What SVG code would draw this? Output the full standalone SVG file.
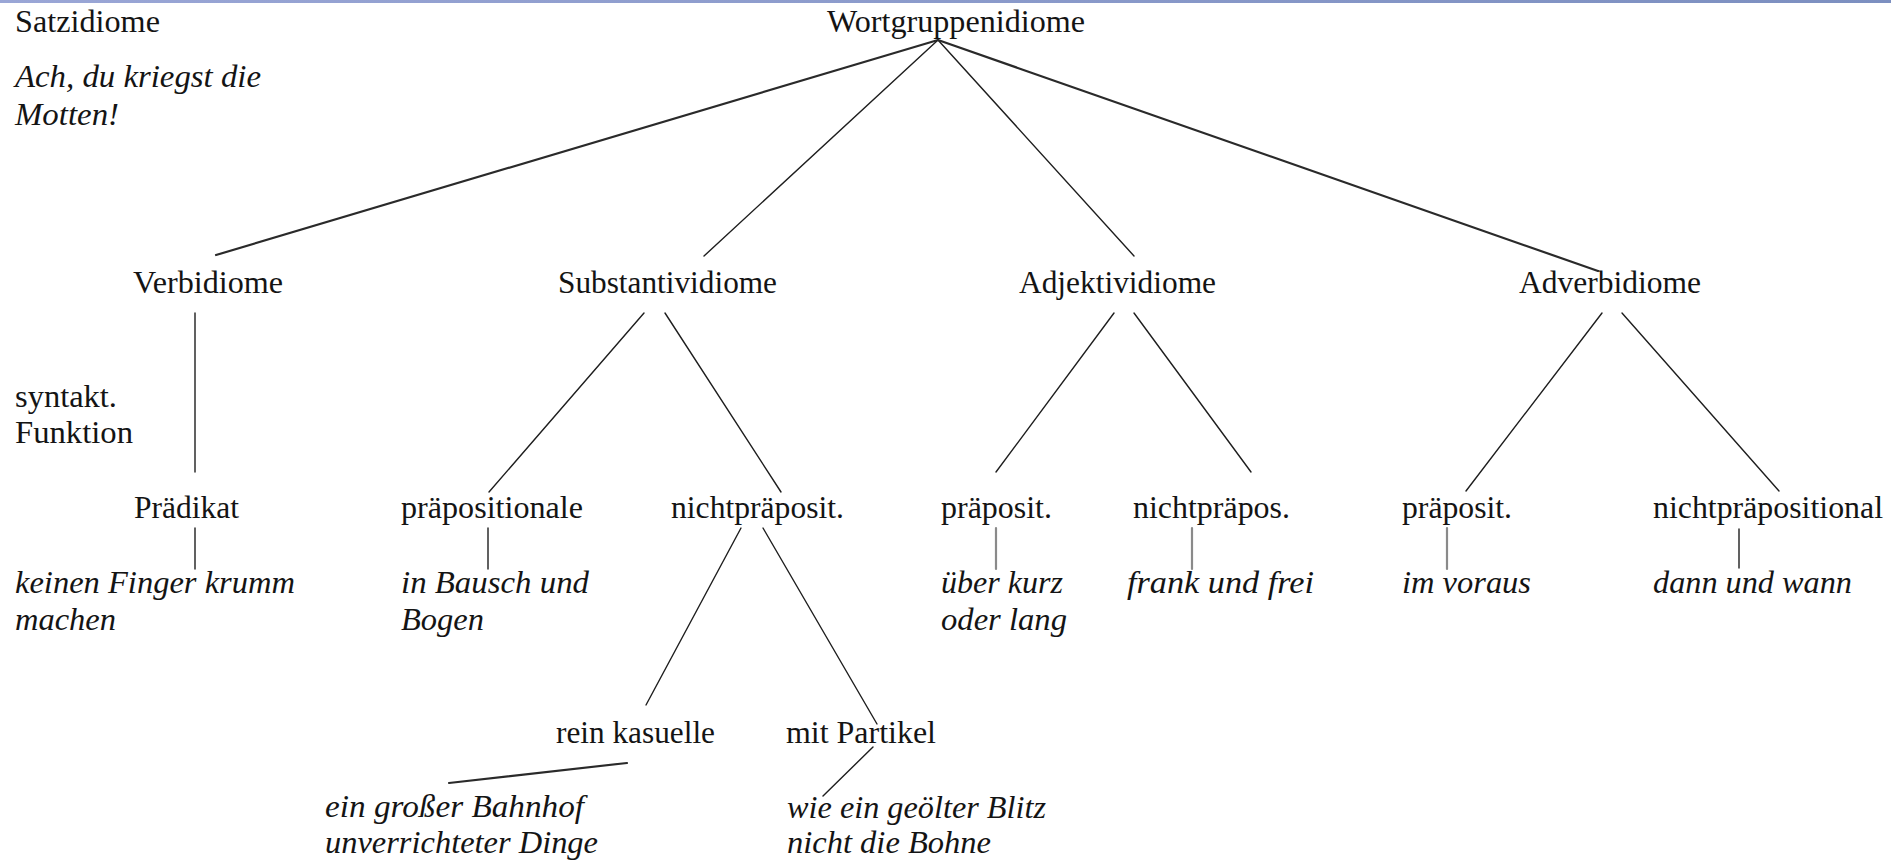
<svg xmlns="http://www.w3.org/2000/svg" width="1891" height="862" viewBox="0 0 1891 862">
  <defs>
    <linearGradient id="bar" x1="0" y1="0" x2="1" y2="0">
      <stop offset="0" stop-color="#9aa6d6"/>
      <stop offset="1" stop-color="#7c8fc0"/>
    </linearGradient>
  </defs>
  <style>
    text { font-family: 'Liberation Serif', 'DejaVu Serif', serif; font-size: 31px; fill: #141414; }
    .ex { font-style: italic; }
    .ln { stroke: #1e1e1e; stroke-width: 1.4; fill: none; stroke-linecap: round; }
    .thick { stroke-width: 2.2; stroke: #2a2a2a; }
    .gray { stroke: #8a8a8a; stroke-width: 2.2; }
  </style>
  <rect x="0" y="0" width="1891" height="862" fill="#ffffff"/>
  <rect x="0" y="0" width="1891" height="3" fill="url(#bar)"/>

  <g id="connectors">
    <line class="ln thick" x1="938" y1="40" x2="216" y2="255"/>
    <line class="ln" x1="938" y1="40" x2="704" y2="256"/>
    <line class="ln" x1="938" y1="40" x2="1134" y2="256"/>
    <line class="ln thick" x1="938" y1="40" x2="1598" y2="271"/>

    <line class="ln" x1="195" y1="313" x2="195" y2="472"/>
    <line class="ln" x1="644" y1="313" x2="489" y2="492"/>
    <line class="ln" x1="665" y1="313" x2="781" y2="492"/>
    <line class="ln" x1="1114" y1="313" x2="996" y2="472"/>
    <line class="ln" x1="1134" y1="313" x2="1251" y2="472"/>
    <line class="ln" x1="1602" y1="313" x2="1466" y2="491"/>
    <line class="ln" x1="1622" y1="313" x2="1779" y2="491"/>

    <line class="ln" x1="195" y1="528" x2="195" y2="569"/>
    <line class="ln" x1="488" y1="528" x2="488" y2="569"/>
    <line class="ln gray" x1="996" y1="528" x2="996" y2="569"/>
    <line class="ln gray" x1="1192" y1="528" x2="1192" y2="569"/>
    <line class="ln gray" x1="1447" y1="528" x2="1447" y2="569"/>
    <line class="ln" x1="1739" y1="529" x2="1739" y2="568"/>

    <line class="ln" x1="741" y1="528" x2="646" y2="705"/>
    <line class="ln" x1="763" y1="528" x2="877" y2="724"/>

    <line class="ln thick" x1="627" y1="763" x2="449" y2="783"/>
    <line class="ln" x1="873" y1="747" x2="823" y2="796"/>
  </g>

  <g id="satzidiome">
    <text x="15" y="32" textLength="145" lengthAdjust="spacingAndGlyphs">Satzidiome</text>
    <text class="ex" x="15" y="87" textLength="246" lengthAdjust="spacingAndGlyphs">Ach, du kriegst die</text>
    <text class="ex" x="15" y="125" textLength="104" lengthAdjust="spacingAndGlyphs">Motten!</text>
  </g>
  <g id="wortgruppenidiome">
    <text x="827" y="32" textLength="258" lengthAdjust="spacingAndGlyphs">Wortgruppenidiome</text>
  </g>
  <g id="syntakt-funktion">
    <text x="15" y="407" textLength="102" lengthAdjust="spacingAndGlyphs">syntakt.</text>
    <text x="15" y="443" textLength="118" lengthAdjust="spacingAndGlyphs">Funktion</text>
  </g>

  <g id="verbidiome">
    <text x="133" y="293" textLength="150" lengthAdjust="spacingAndGlyphs">Verbidiome</text>
  </g>
  <g id="substantividiome">
    <text x="558" y="293" textLength="219" lengthAdjust="spacingAndGlyphs">Substantividiome</text>
  </g>
  <g id="adjektividiome">
    <text x="1019" y="293" textLength="197" lengthAdjust="spacingAndGlyphs">Adjektividiome</text>
  </g>
  <g id="adverbidiome">
    <text x="1519" y="293" textLength="182" lengthAdjust="spacingAndGlyphs">Adverbidiome</text>
  </g>

  <g id="praedikat">
    <text x="134" y="518" textLength="105" lengthAdjust="spacingAndGlyphs">Prädikat</text>
    <text class="ex" x="15" y="593" textLength="280" lengthAdjust="spacingAndGlyphs">keinen Finger krumm</text>
    <text class="ex" x="15" y="630" textLength="101" lengthAdjust="spacingAndGlyphs">machen</text>
  </g>
  <g id="subst-praepositionale">
    <text x="401" y="518" textLength="182" lengthAdjust="spacingAndGlyphs">präpositionale</text>
    <text class="ex" x="401" y="593" textLength="188" lengthAdjust="spacingAndGlyphs">in Bausch und</text>
    <text class="ex" x="401" y="630" textLength="83" lengthAdjust="spacingAndGlyphs">Bogen</text>
  </g>
  <g id="subst-nichtpraeposit">
    <text x="671" y="518" textLength="173" lengthAdjust="spacingAndGlyphs">nichtpräposit.</text>
  </g>
  <g id="adj-praeposit">
    <text x="941" y="518" textLength="111" lengthAdjust="spacingAndGlyphs">präposit.</text>
    <text class="ex" x="941" y="593" textLength="122" lengthAdjust="spacingAndGlyphs">über kurz</text>
    <text class="ex" x="941" y="630" textLength="126" lengthAdjust="spacingAndGlyphs">oder lang</text>
  </g>
  <g id="adj-nichtpraepos">
    <text x="1133" y="518" textLength="157" lengthAdjust="spacingAndGlyphs">nichtpräpos.</text>
    <text class="ex" x="1127" y="593" textLength="187" lengthAdjust="spacingAndGlyphs">frank und frei</text>
  </g>
  <g id="adv-praeposit">
    <text x="1402" y="518" textLength="110" lengthAdjust="spacingAndGlyphs">präposit.</text>
    <text class="ex" x="1402" y="593" textLength="129" lengthAdjust="spacingAndGlyphs">im voraus</text>
  </g>
  <g id="adv-nichtpraepositional">
    <text x="1653" y="518" textLength="230" lengthAdjust="spacingAndGlyphs">nichtpräpositional</text>
    <text class="ex" x="1653" y="593" textLength="199" lengthAdjust="spacingAndGlyphs">dann und wann</text>
  </g>
  <g id="rein-kasuelle">
    <text x="556" y="743" textLength="159" lengthAdjust="spacingAndGlyphs">rein kasuelle</text>
    <text class="ex" x="325" y="817" textLength="259" lengthAdjust="spacingAndGlyphs">ein großer Bahnhof</text>
    <text class="ex" x="325" y="853" textLength="273" lengthAdjust="spacingAndGlyphs">unverrichteter Dinge</text>
  </g>
  <g id="mit-partikel">
    <text x="786" y="743" textLength="150" lengthAdjust="spacingAndGlyphs">mit Partikel</text>
    <text class="ex" x="787" y="818" textLength="259" lengthAdjust="spacingAndGlyphs">wie ein geölter Blitz</text>
    <text class="ex" x="787" y="853" textLength="204" lengthAdjust="spacingAndGlyphs">nicht die Bohne</text>
  </g>
</svg>
